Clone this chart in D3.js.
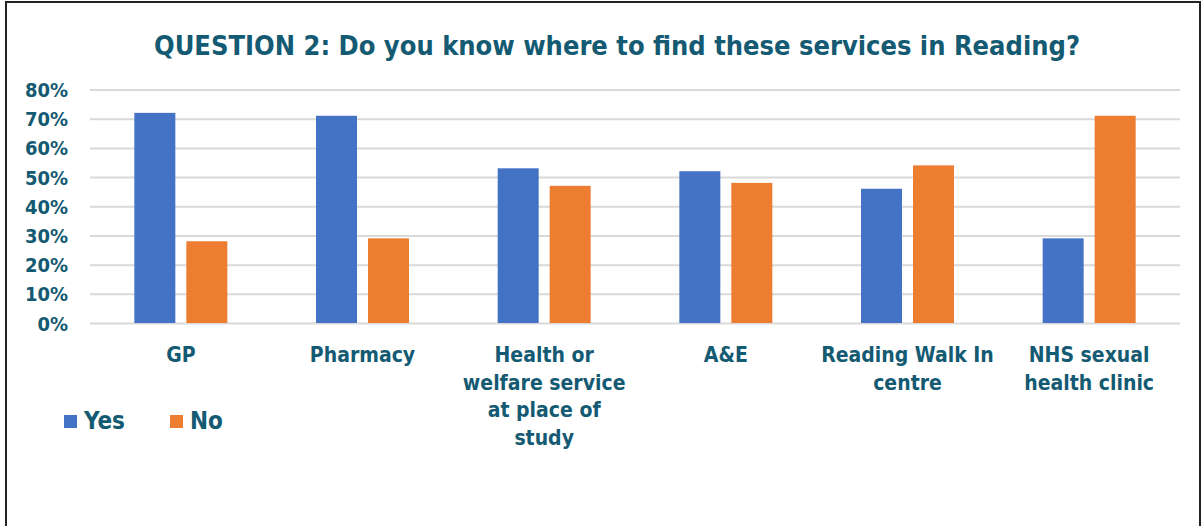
<!DOCTYPE html>
<html><head><meta charset="utf-8">
<script src="https://cdn.jsdelivr.net/npm/d3@7"></script>
<style>
html,body{margin:0;padding:0;background:#fff;}
svg{display:block;}
text{font-family:"DejaVu Sans Condensed","DejaVu Sans",sans-serif;font-weight:bold;fill:#135A72;}
</style></head>
<body>
<svg id="chart" width="1203" height="526"></svg>
<script>
const categories = [
  ["GP"],
  ["Pharmacy"],
  ["Health or","welfare service","at place of","study"],
  ["A&E"],
  ["Reading Walk In","centre"],
  ["NHS sexual","health clinic"]
];
const seriesNames = ["Yes","No"];
const yesValues = [72,71,53,52,46,29];
const noValues  = [28,29,47,48,54,71];
const tickValues = [0,10,20,30,40,50,60,70,80];
const colors = ["#4472C4","#ED7D31"];
const title = "QUESTION 2: Do you know where to find these services in Reading?";

(function(){
const svg = d3.select("#chart");
svg.append("rect").attr("x",6).attr("y",2).attr("width",1194).attr("height",540)
  .attr("fill","#fff").attr("stroke","#222").attr("stroke-width",2);

const pL=90, pR=1180, pT=89.5, pB=323;
const x0 = d3.scaleBand().domain(d3.range(categories.length)).range([pL,pR]).paddingInner(0).paddingOuter(0);
const pairW = 93;
const x1 = d3.scaleBand().domain(seriesNames).range([x0.bandwidth()/2-pairW/2, x0.bandwidth()/2+pairW/2]).paddingInner(0.2115);
const y = d3.scaleLinear().domain([0,80]).range([pB,pT]);

const yAxis = d3.axisLeft(y).tickValues(tickValues).tickSize(-(pR-pL)).tickFormat(d=>d+"%");
const ga = svg.append("g").attr("transform",`translate(${pL},0)`).call(yAxis);
ga.select(".domain").remove();
ga.selectAll(".tick line").attr("stroke","#D9D9D9").attr("stroke-width",2);
ga.selectAll(".tick text").attr("x",-22).attr("dy","0.35em").style("font-size","20px").attr("fill","#135A72");

const data = categories.map((c,i)=>({i, vals:[yesValues[i],noValues[i]]}));
const groups = svg.append("g").selectAll("g").data(data).join("g")
  .attr("transform",d=>`translate(${x0(d.i)},0)`);
groups.selectAll("rect").data(d=>d.vals.map((v,k)=>({k,v}))).join("rect")
  .attr("x",d=>x1(seriesNames[d.k])).attr("width",x1.bandwidth())
  .attr("y",d=>y(d.v)).attr("height",d=>y(0)-y(d.v))
  .attr("fill",d=>colors[d.k]);

const xl = svg.append("g");
categories.forEach((lines,i)=>{
  const cx = x0(i)+x0.bandwidth()/2;
  const t = xl.append("text").attr("text-anchor","middle").attr("x",cx).attr("y",362).style("font-size","21px");
  lines.forEach((ln,j)=>t.append("tspan").attr("x",cx).attr("y",362+j*27.5).text(ln));
});

svg.append("text").attr("x",617).attr("y",55).attr("text-anchor","middle").style("font-size","27px").text(title);

const lg = svg.append("g");
const legX = [64,170];
seriesNames.forEach((s,k)=>{
  lg.append("rect").attr("x",legX[k]).attr("y",415).attr("width",13).attr("height",13).attr("fill",colors[k]);
  lg.append("text").attr("x",legX[k]+20).attr("y",429).style("font-size","24px").text(s);
});
})();
</script>
</body></html>
